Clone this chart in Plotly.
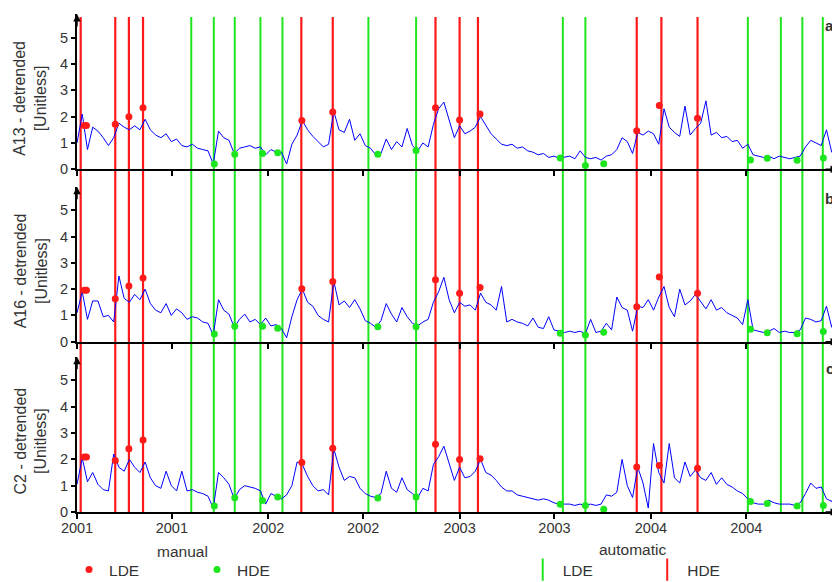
import plotly.graph_objects as go
from plotly.subplots import make_subplots
import pandas as pd

dates = pd.date_range("2001-01-01", periods=146, freq="10D")

a13 = [1.0, 2.1, 0.75, 1.6, 1.45, 1.2, 0.9, 1.2, 1.75, 1.6,
       1.5, 1.65, 1.5, 1.9, 1.5, 1.3, 1.2, 1.35, 1.05, 1.15,
       0.9, 0.85, 0.95, 0.8, 0.75, 0.7, 0.2, 1.45, 1.2, 1.1,
       0.6, 0.8, 0.85, 0.9, 0.8, 0.85, 0.55, 0.75, 0.65, 0.65,
       0.2, 0.95, 1.3, 1.85, 1.5, 1.25, 1.05, 0.85, 0.95, 2.2,
       1.5, 1.4, 1.9, 1.1, 1.35, 0.9, 0.8, 0.55, 0.6, 1.15,
       0.75, 1.05, 0.85, 1.55, 0.9, 0.7, 1.0, 0.85, 1.7, 2.3,
       2.55, 1.9, 1.2, 1.65, 1.35, 1.45, 1.6, 2.0, 1.7, 1.35,
       1.15, 0.95, 0.9, 0.95, 0.8, 0.85, 0.7, 0.65, 0.55, 0.6,
       0.45, 0.5, 0.42, 0.45, 0.5, 0.4, 0.7, 0.45, 0.4, 0.45,
       0.35, 0.5, 0.55, 0.75, 1.2, 1.05, 0.6, 1.4, 1.3, 1.45,
       1.35, 0.95, 2.3, 1.6, 1.4, 1.25, 2.4, 1.3, 1.55, 1.75,
       2.6, 1.3, 1.4, 1.2, 1.25, 1.05, 1.1, 0.8, 0.95, 0.55,
       0.5, 0.45, 0.5, 0.4, 0.5, 0.45, 0.4, 0.45, 0.5, 0.85,
       1.1, 1.0, 0.9, 1.5, 0.65, 0.75]

a16 = [1.1, 1.9, 0.85, 1.55, 1.55, 0.95, 1.0, 0.75, 2.5, 1.65,
       1.5, 1.8, 1.6, 2.0, 1.45, 1.2, 1.1, 1.45, 1.0, 1.25,
       1.1, 0.85, 0.95, 0.9, 0.75, 0.7, 0.25, 1.6, 1.2, 1.05,
       0.55, 0.85, 1.05, 0.75, 0.85, 0.65, 0.9, 0.6, 0.65, 0.5,
       0.15, 0.95, 1.6, 2.0, 1.5, 1.35, 1.0, 0.85, 0.75, 2.3,
       1.4, 1.55, 1.3, 1.6, 1.25, 0.8, 0.7, 0.55, 0.8, 1.45,
       1.05, 0.75, 1.3, 0.95, 0.7, 0.6, 0.75, 0.85, 1.5, 1.9,
       2.45, 1.6, 1.1, 1.5, 1.35, 1.4, 1.2, 1.85, 1.5, 1.4,
       1.2, 2.1, 0.75, 0.85, 0.75, 0.7, 0.6, 0.9, 0.55, 0.5,
       0.95, 0.45, 0.4, 0.35, 0.4, 0.35, 0.4, 0.3, 0.85, 0.35,
       0.4, 0.7, 0.45, 1.7, 1.3, 1.2, 0.4, 1.35, 1.3, 1.6,
       1.2, 1.7, 2.1, 1.3, 0.95, 2.0, 1.4, 1.55, 1.8, 1.5,
       1.25, 1.6, 1.2, 1.3, 1.1, 1.0, 0.9, 0.65, 1.6, 0.45,
       0.4, 0.35, 0.4, 0.5, 0.35, 0.4, 0.35, 0.35, 0.45, 0.9,
       0.85, 0.75, 0.8, 1.35, 0.55, 1.5]

c2 = [1.05, 2.05, 1.15, 1.5, 1.05, 0.85, 0.8, 2.2, 1.7, 1.55,
      2.0, 1.7, 1.5, 1.9, 1.3, 1.0, 0.9, 1.55, 1.0, 0.8,
      1.55, 0.8, 0.85, 0.75, 0.7, 0.6, 0.15, 1.5, 1.3, 1.05,
      0.5, 0.85, 1.0, 0.95, 0.9, 0.8, 0.3, 0.7, 0.6, 0.5,
      0.65, 1.0, 1.9, 1.8, 1.35, 1.0, 0.8, 0.85, 0.65, 2.4,
      1.7, 1.2, 1.35, 1.3, 0.9, 0.7, 0.6, 0.55, 0.7, 1.55,
      0.9, 0.75, 1.3, 0.85, 0.7, 0.55, 0.9, 0.8, 1.8, 2.1,
      2.5, 1.8, 1.2, 1.7, 1.3, 1.35, 1.55, 2.0, 1.5, 1.4,
      1.2, 0.95, 0.8, 0.8, 0.65, 0.6, 0.55, 0.5, 0.45, 0.5,
      0.45, 0.35, 0.3, 0.3, 0.3, 0.25, 0.3, 0.25, 0.3, 0.25,
      0.3, 0.65, 0.6, 0.75, 2.0, 1.0, 0.55, 1.7, 1.1, 0.15,
      2.6, 1.5, 1.1, 2.6, 1.3, 1.1, 1.9, 1.35, 1.6, 1.3,
      1.2, 1.5, 1.05, 1.3, 1.05, 0.95, 0.8, 0.7, 0.5, 0.35,
      0.3, 0.3, 0.45, 0.35, 0.3, 0.3, 0.3, 0.25, 0.35, 0.7,
      1.1, 0.9, 0.95, 0.5, 0.4, 0.9]

# automatic detection (vertical lines)
auto_lde = ["2001-08-07", "2001-09-19", "2001-10-29", "2001-12-17", "2002-01-28",
            "2002-07-11", "2002-10-10", "2003-07-17", "2003-08-29", "2004-07-04",
            "2004-09-05", "2004-10-16", "2004-11-24"]
auto_hde = ["2001-01-08", "2001-03-15", "2001-04-10", "2001-05-07", "2002-03-05",
            "2002-05-04", "2002-11-16", "2003-01-01", "2003-02-05", "2003-12-05",
            "2004-01-21", "2004-03-30"]

# manual picks (dots)
manual_lde_dates = ["2001-01-15", "2001-01-19", "2001-03-15", "2001-04-10", "2001-05-07",
                    "2002-03-06", "2002-05-04", "2002-11-16", "2003-01-01", "2003-02-09",
                    "2003-12-05", "2004-01-17", "2004-03-30"]
manual_lde_a13 = [1.66, 1.66, 1.71, 2.0, 2.34, 1.85, 2.18, 2.34, 1.87, 2.1, 1.46, 2.42, 1.94]
manual_lde_a16 = [1.96, 1.96, 1.63, 2.12, 2.42, 2.02, 2.29, 2.36, 1.84, 2.06, 1.33, 2.46, 1.84]
manual_lde_c2 = [2.09, 2.09, 1.96, 2.4, 2.74, 1.88, 2.42, 2.57, 1.99, 2.02, 1.71, 1.77, 1.66]

manual_hde_dates = ["2001-09-20", "2001-10-29", "2001-12-21", "2002-01-19", "2002-07-29",
                    "2002-10-10", "2003-07-12", "2003-08-29", "2003-10-03", "2004-07-09",
                    "2004-08-10", "2004-10-06", "2004-11-25"]
manual_hde_a13 = [0.2, 0.57, 0.6, 0.63, 0.57, 0.71, 0.43, 0.14, 0.21, 0.35, 0.42, 0.34, 0.43]
manual_hde_a16 = [0.29, 0.59, 0.59, 0.51, 0.57, 0.57, 0.32, 0.25, 0.36, 0.47, 0.34, 0.30, 0.39]
manual_hde_c2 = [0.23, 0.54, 0.44, 0.57, 0.53, 0.57, 0.29, 0.25, 0.10, 0.40, 0.32, 0.23, 0.25]

stations = ["A13", "A16", "C2"]
panel_tags = ["a", "b", "c"]

FONT = "Liberation Sans, Arial, Helvetica, sans-serif"
TXT = "#333333"
RED = "#ff1a1a"
GREEN = "#1ee61e"
BLUE = "#0000ff"


def create_plot():
    series = [a13, a16, c2]
    lde_vals = [manual_lde_a13, manual_lde_a16, manual_lde_c2]
    hde_vals = [manual_hde_a13, manual_hde_a16, manual_hde_c2]

    fig = make_subplots(rows=3, cols=1, shared_xaxes=True)

    for i in range(3):
        row = i + 1
        fig.add_trace(go.Scatter(x=dates, y=series[i], mode="lines",
                                 line=dict(color=BLUE, width=1),
                                 showlegend=False, hoverinfo="skip"), row=row, col=1)
        fig.add_trace(go.Scatter(x=manual_lde_dates, y=lde_vals[i], mode="markers",
                                 marker=dict(color=RED, size=7), name="LDE",
                                 legend="legend", showlegend=(i == 0)), row=row, col=1)
        fig.add_trace(go.Scatter(x=manual_hde_dates, y=hde_vals[i], mode="markers",
                                 marker=dict(color=GREEN, size=7), name="HDE",
                                 legend="legend", showlegend=(i == 0)), row=row, col=1)

    # legend-only entries for the automatic lines
    fig.add_trace(go.Scatter(x=[None], y=[None], mode="markers", name="LDE", legend="legend2",
                             marker=dict(symbol="line-ns", size=20, line=dict(color=GREEN, width=2))))
    fig.add_trace(go.Scatter(x=[None], y=[None], mode="markers", name="HDE", legend="legend2",
                             marker=dict(symbol="line-ns", size=20, line=dict(color=RED, width=2))))

    for d in auto_lde:
        fig.add_shape(type="line", xref="x", yref="paper", x0=d, x1=d, y0=0, y1=0.994,
                      line=dict(color=GREEN, width=2), layer="below")
    for d in auto_hde:
        fig.add_shape(type="line", xref="x", yref="paper", x0=d, x1=d, y0=0, y1=0.994,
                      line=dict(color=RED, width=2.2), layer="below")

    domains = [[0.6882, 1.0], [0.342, 0.6532], [0.0, 0.3118]]
    for i in range(3):
        row = i + 1
        sfx = "" if i == 0 else str(row)
        fig.update_yaxes(domain=domains[i], range=[0, 5.9], tickvals=[0, 1, 2, 3, 4, 5],
                         ticks="outside", ticklen=4, tickwidth=1.5, tickcolor="black",
                         showline=True, linecolor="black", linewidth=2,
                         showgrid=False, zeroline=False,
                         tickfont=dict(family=FONT, size=14.5, color=TXT), row=row, col=1)
        # axis arrows
        fig.add_annotation(x=0, y=1, xref=f"x{sfx} domain", yref=f"y{sfx} domain",
                           ax=0, ay=14, showarrow=True, arrowhead=2, arrowsize=1,
                           arrowwidth=1.5, arrowcolor="black", text="")
        fig.add_annotation(x=1, y=0, xref=f"x{sfx} domain", yref=f"y{sfx} domain",
                           ax=-14, ay=0, showarrow=True, arrowhead=2, arrowsize=1,
                           arrowwidth=1.5, arrowcolor="black", text="")
        # axis title
        fig.add_annotation(x=-0.061, y=2.7, xref="paper", yref=f"y{sfx}",
                           xanchor="center", yanchor="middle",
                           text=f"{stations[i]} - detrended<br>[Unitless]", textangle=-90,
                           showarrow=False, font=dict(family=FONT, size=16, color=TXT))
        # panel tag
        fig.add_annotation(x=0.989, y=5.45, xref="paper", yref=f"y{sfx}",
                           xanchor="center", yanchor="middle",
                           text=f"<b>{panel_tags[i]}</b>", showarrow=False,
                           font=dict(family=FONT, size=15, color=TXT))

    fig.update_xaxes(range=["2001-01-01", "2004-12-23"], tick0="2001-01-01", dtick="M6",
                     tickformat="%Y", ticks="outside", ticklen=5, tickwidth=1.5,
                     tickcolor="black", showline=True, linecolor="black", linewidth=2,
                     showgrid=False, zeroline=False, ticklabelstandoff=-3,
                     tickfont=dict(family=FONT, size=14.5, color=TXT))

    # legend group titles
    fig.add_annotation(x=0.1386, y=-0.0797, xref="paper", yref="paper", text="manual",
                       showarrow=False, xanchor="center", yanchor="middle",
                       font=dict(family=FONT, size=15.5, color=TXT))
    fig.add_annotation(x=0.7306, y=-0.0743, xref="paper", yref="paper", text="automatic",
                       showarrow=False, xanchor="center", yanchor="middle",
                       font=dict(family=FONT, size=15.5, color=TXT))

    legend_style = dict(orientation="h", xanchor="left", yanchor="middle", y=-0.1165,
                        entrywidthmode="pixels", bgcolor="rgba(0,0,0,0)",
                        font=dict(family=FONT, size=15.5, color=TXT))
    fig.update_layout(
        width=832, height=574,
        margin=dict(l=69, r=2, t=6, b=70, autoexpand=False),
        paper_bgcolor="white", plot_bgcolor="rgba(0,0,0,0)",
        font=dict(family=FONT, color=TXT),
        legend=dict(legend_style, x=-0.0105, entrywidth=83),
        legend2=dict(legend_style, x=0.5857, entrywidth=79.5),
    )
    return fig


def main():
    fig = create_plot()
    fig.write_html("out.html")


if __name__ == "__main__":
    main()
